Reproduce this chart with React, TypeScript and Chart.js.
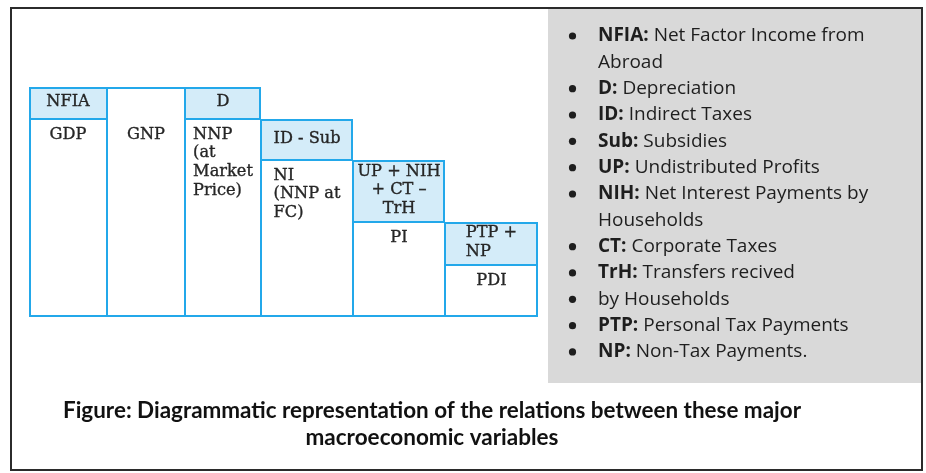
import React, { useEffect, useRef } from 'react';
import { Chart, registerables } from 'chart.js';

Chart.register(...registerables);

// ---- data ----
const columns = ['GDP', 'GNP', 'NNP', 'NI', 'PI', 'PDI'];
const columnLabels = [['GDP'], ['GNP'], ['NNP', '(at', 'Market', 'Price)'], ['NI', '(NNP at', 'FC)'], ['PI'], ['PDI']];
const columnWidths = [78, 78, 76, 92, 92, 93];
const columnValues = [198, 230, 198, 157, 95, 52];
const deductionValues = [32, 0, 32, 41, 62, 43];
const deductionLabels = [['NFIA'], [], ['D'], ['ID - Sub'], ['UP + NIH', '+ CT –', 'TrH'], ['PTP +', 'NP']];
const columnBlockAlign = [false, false, true, true, false, false];
const deductionBlockAlign = [false, false, false, false, false, true];

const legendBullets = [true, false, true, true, true, true, true, false, true, true, true, true, true];
const legendTerms = ['NFIA:', '', 'D:', 'ID:', 'Sub:', 'UP:', 'NIH:', '', 'CT:', 'TrH:', '', 'PTP:', 'NP:'];
const legendTexts = [
  ' Net Factor Income from',
  'Abroad',
  ' Depreciation',
  ' Indirect Taxes',
  ' Subsidies',
  ' Undistributed Profits',
  ' Net Interest Payments by',
  'Households',
  ' Corporate Taxes',
  ' Transfers recived',
  'by Households',
  ' Personal Tax Payments',
  ' Non-Tax Payments.',
];
const captionLines = [
  'Figure: Diagrammatic representation of the relations between these major',
  'macroeconomic variables',
];

// ---- derived ----
const totals = columnValues.map((v, i) => v + deductionValues[i]);
const labelLevels = columnValues.map((v) => Math.min(v, columnValues[0]));
let acc = 0;
const centers = columnWidths.map((w) => {
  const c = acc + w / 2;
  acc += w;
  return c;
});
const totalWidth = acc;
const maxTotal = Math.max(...totals);

const BLUE = '#23a8ea';
const SHADE = '#d4ecf9';
const SERIF = '16.2px "DejaVu Serif"';

function edgeWidths(i: number, j: number) {
  const lo = j === 0 ? 0 : columnValues[i];
  const hasAbove = j === 0 && deductionValues[i] > 0;
  const prevTop = i > 0 ? totals[i - 1] : 0;
  const nextTop = i < totals.length - 1 ? totals[i + 1] : 0;
  return {
    left: prevTop > lo ? 1 : 2,
    right: nextTop > lo ? 1 : 2,
    top: hasAbove ? 1 : 2,
    bottom: j === 0 ? 2 : 1,
  };
}

function drawLines(ctx: CanvasRenderingContext2D, lines: string[], cx: number, firstY: number, block: boolean, lh: number) {
  const put = (l: string, x: number, y: number) => {
    ctx.fillText(l, x, y);
    ctx.strokeText(l, x, y);
  };
  if (block) {
    const w = Math.max(...lines.map((l) => ctx.measureText(l).width));
    ctx.textAlign = 'left';
    lines.forEach((l, k) => put(l, cx - w / 2, firstY + k * lh));
  } else {
    ctx.textAlign = 'center';
    lines.forEach((l, k) => put(l, cx, firstY + k * lh));
  }
}

const decorPlugin = {
  id: 'decor',
  beforeDraw(chart: any) {
    const ctx = chart.ctx as CanvasRenderingContext2D;
    ctx.save();
    ctx.fillStyle = '#d9d9d9';
    ctx.fillRect(548, 8, 374, 375);
    ctx.strokeStyle = '#2b2b2b';
    ctx.lineWidth = 2;
    ctx.strokeRect(11, 8, 911, 462);
    ctx.restore();
  },
  afterDatasetsDraw(chart: any) {
    const ctx = chart.ctx as CanvasRenderingContext2D;
    const ys = chart.scales.y;
    const LH = 18.7;
    ctx.save();
    ctx.font = SERIF;
    ctx.fillStyle = '#262626';
    ctx.strokeStyle = '#262626';
    ctx.lineWidth = 0.35;
    ctx.textBaseline = 'middle';
    columns.forEach((_, i) => {
      const meta = chart.getDatasetMeta(i);
      const baseEl = meta.data[0];
      const cx = baseEl.x;
      const y0 = ys.getPixelForValue(labelLevels[i]) + 15.5;
      drawLines(ctx, columnLabels[i], cx, y0, columnBlockAlign[i], LH);
      const topEl = meta.data[1];
      if (topEl && deductionLabels[i].length) {
        const t = Math.min(topEl.y, topEl.base);
        const b = Math.max(topEl.y, topEl.base);
        const n = deductionLabels[i].length;
        const first = (t + b) / 2 - 1 - ((n - 1) * LH) / 2;
        drawLines(ctx, deductionLabels[i], topEl.x, first, deductionBlockAlign[i], LH);
      }
    });
    ctx.restore();
  },
  afterDraw(chart: any) {
    const ctx = chart.ctx as CanvasRenderingContext2D;
    ctx.save();
    ctx.textBaseline = 'middle';
    ctx.textAlign = 'left';
    ctx.fillStyle = '#1e1e1e';
    const step = 26.33;
    legendTexts.forEach((txt, k) => {
      const y = 36 + k * step;
      if (legendBullets[k]) {
        ctx.beginPath();
        ctx.arc(572.5, y, 3.6, 0, Math.PI * 2);
        ctx.fill();
      }
      let x = 598;
      if (legendTerms[k]) {
        ctx.font = 'bold 19px "Open Sans"';
        ctx.fillText(legendTerms[k], x, y);
        x += ctx.measureText(legendTerms[k]).width;
      }
      ctx.font = '19px "Open Sans"';
      ctx.fillText(txt, x, y);
    });
    ctx.fillStyle = '#111111';
    ctx.textAlign = 'center';
    ctx.font = 'bold 22.5px Lato';
    captionLines.forEach((l, k) => ctx.fillText(l, 432, 411 + k * 27, 738));
    ctx.restore();
  },
};

export default function App() {
  const ref = useRef<HTMLCanvasElement | null>(null);
  useEffect(() => {
    if (!ref.current) return;
    const datasets = columns.map((name, i) => {
      const data: any[] = [{ x: centers[i], y: [0, columnValues[i]] }];
      if (deductionValues[i] > 0) {
        data.push({ x: centers[i], y: [columnValues[i], totals[i]] });
      }
      return {
        label: name,
        data,
        backgroundColor: ['#ffffff', SHADE],
        borderColor: BLUE,
        borderSkipped: false,
        inflateAmount: 0,
        borderWidth: (ctx: any) => edgeWidths(i, ctx.dataIndex),
        maxBarThickness: (ctx: any) => {
          const s = ctx.chart.scales.x;
          return s ? Math.abs(s.getPixelForValue(columnWidths[i]) - s.getPixelForValue(0)) : columnWidths[i];
        },
      };
    });
    const chart = new Chart(ref.current, {
      type: 'bar',
      data: { datasets } as any,
      options: {
        responsive: false,
        animation: false,
        devicePixelRatio: 1,
        layout: { padding: { left: 29, right: 388, top: 87, bottom: 156 } },
        datasets: { bar: { grouped: false, barPercentage: 4, categoryPercentage: 1 } } as any,
        scales: {
          x: { type: 'linear', display: false, offset: false, grid: { offset: false }, min: 0, max: totalWidth },
          y: { display: false, min: 0, max: maxTotal },
        },
        plugins: { legend: { display: false }, tooltip: { enabled: false } },
      },
      plugins: [decorPlugin],
    } as any);
    return () => chart.destroy();
  }, []);
  return (
    <div style={{ position: 'absolute', left: 0, top: 0, width: 926, height: 473, background: '#ffffff' }}>
      <canvas ref={ref} width={926} height={473} />
    </div>
  );
}
